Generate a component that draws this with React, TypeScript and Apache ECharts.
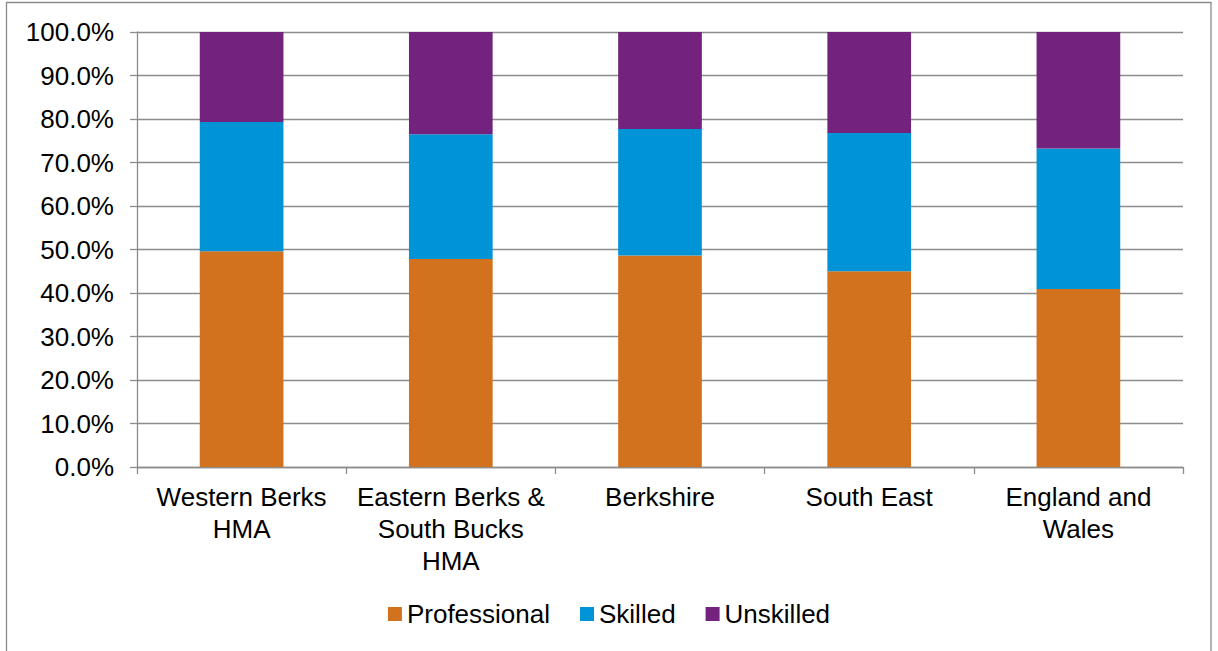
import React, { useEffect, useRef } from "react";
import * as echarts from "echarts";

const categories = [
  "Western Berks\nHMA",
  "Eastern Berks &\nSouth Bucks\nHMA",
  "Berkshire",
  "South East",
  "England and\nWales",
];
const professional = [49.6, 47.8, 48.6, 45.0, 40.9];
const skilled = [29.7, 28.7, 29.1, 31.8, 32.3];
const unskilled = [20.7, 23.5, 22.3, 23.2, 26.8];
const seriesNames = ["Professional", "Skilled", "Unskilled"];
const colors = ["#D2711E", "#0094D6", "#73237E"];

export default function App() {
  const ref = useRef<HTMLDivElement>(null);
  useEffect(() => {
    if (!ref.current) return;
    const chart = echarts.init(ref.current, null, { renderer: "svg" });
    const font = "'Liberation Sans', Arial, Helvetica, sans-serif";
    const gridColor = "#8c8c8c";
    const dataSets = [professional, skilled, unskilled];
    chart.setOption({
      animation: false,
      textStyle: { fontFamily: font },
      graphic: [
        {
          type: "rect",
          shape: { x: 6.5, y: 2.5, width: 1204.5, height: 670 },
          style: { fill: "none", stroke: gridColor, lineWidth: 1.3 },
          silent: true,
        },
      ],
      legend: {
        bottom: 19,
        left: "center",
        itemWidth: 14,
        itemHeight: 14,
        itemGap: 30,
        icon: "rect",
        textStyle: { fontSize: 26, color: "#000", fontFamily: font },
        data: seriesNames,
      },
      grid: { left: 137, right: 35, top: 32, bottom: 184 },
      xAxis: {
        type: "category",
        data: categories,
        axisLine: { lineStyle: { color: gridColor, width: 1.3 } },
        axisTick: { show: true, length: 7, alignWithLabel: false, lineStyle: { color: gridColor, width: 1.3 } },
        axisLabel: {
          interval: 0,
          margin: 14,
          fontSize: 26,
          lineHeight: 32,
          color: "#000",
          fontFamily: font,
        },
      },
      yAxis: {
        type: "value",
        min: 0,
        max: 100,
        interval: 10,
        axisLine: { show: true, lineStyle: { color: gridColor, width: 1.3 } },
        axisTick: { show: true, length: 7, lineStyle: { color: gridColor, width: 1.3 } },
        splitLine: { show: true, lineStyle: { color: gridColor, width: 1.3 } },
        axisLabel: {
          margin: 23,
          fontSize: 26,
          color: "#000",
          fontFamily: font,
          formatter: (v: number) => v.toFixed(1) + "%",
        },
      },
      series: seriesNames.map((name, i) => ({
        name,
        type: "bar",
        stack: "total",
        barWidth: "40%",
        itemStyle: { color: colors[i] },
        data: dataSets[i],
      })),
    });
    return () => chart.dispose();
  }, []);
  return (
    <div
      ref={ref}
      style={{ position: "absolute", left: 0, top: 0, width: 1218, height: 651, background: "#fff" }}
    />
  );
}
